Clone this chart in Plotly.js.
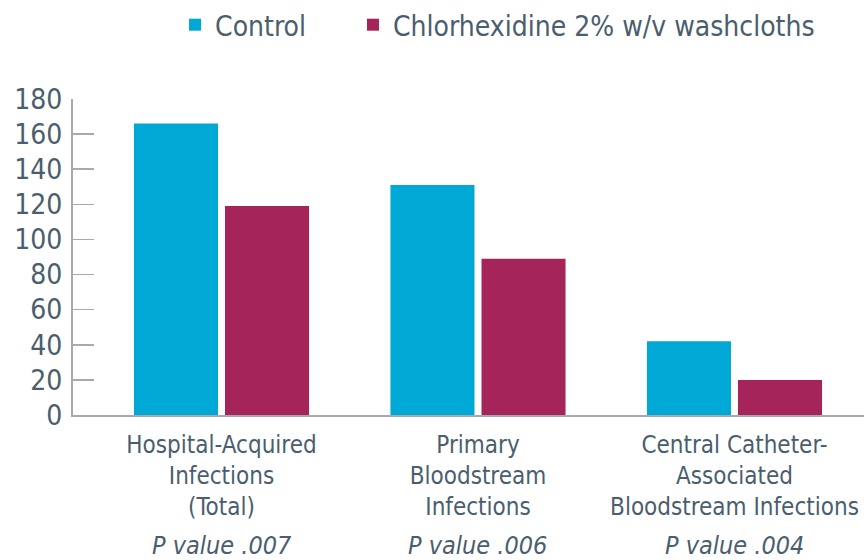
<!DOCTYPE html>
<html>
<head>
<meta charset="utf-8">
<script src="https://cdn.plot.ly/plotly-3.0.1.min.js"></script>
<style>html,body{margin:0;padding:0;background:#fff;}#chart{width:864px;height:560px;}</style>
</head>
<body>
<div id="chart"></div>
<script>
const categories = ["Hospital-Acquired<br>Infections<br>(Total)", "Primary<br>Bloodstream<br>Infections", "Central Catheter-<br>Associated<br>Bloodstream Infections"];
const pValues = ["P value .007", "P value .006", "P value .004"];
const controlValues = [166, 131, 42];
const chlorhexidineValues = [119, 89, 20];
const seriesNames = ["Control", "Chlorhexidine 2% w/v washcloths"];
const yTicks = [0, 20, 40, 60, 80, 100, 120, 140, 160, 180];

const FONT = "'DejaVu Sans Condensed', 'Liberation Sans Narrow', sans-serif";
const TXT = "#4a5e6e";
const AX = "#a6a9b6";
const xIdx = categories.map((c, i) => i);

const traces = [
  {type: 'bar', name: seriesNames[0], x: xIdx, y: controlValues, marker: {color: '#00a8d5'}, hoverinfo: 'skip', legend: 'legend'},
  {type: 'bar', name: seriesNames[1], x: xIdx, y: chlorhexidineValues, marker: {color: '#a5245a'}, hoverinfo: 'skip', legend: 'legend2'}
];

const annotations = pValues.map((p, i) => ({
  x: i, xref: 'x', y: 0, yref: 'paper', yanchor: 'middle', yshift: -130,
  text: '<i>' + p + '</i>', showarrow: false,
  font: {family: FONT, size: 25, color: TXT}
}));

const legendFont = {family: FONT, size: 28, color: TXT};

const layout = {
  width: 864, height: 560,
  margin: {l: 73, r: 0, t: 99, b: 145},
  paper_bgcolor: '#fff', plot_bgcolor: '#fff',
  barmode: 'group', bargap: 0.29, bargroupgap: 0.077,
  showlegend: true,
  legend: {orientation: 'h', x: 0.129, xanchor: 'left', y: 1.315, yanchor: 'top', font: legendFont, itemwidth: 30},
  legend2: {orientation: 'h', x: 0.354, xanchor: 'left', y: 1.315, yanchor: 'top', font: legendFont, itemwidth: 30},
  xaxis: {type: 'linear', range: [-0.579, 2.505], tickmode: 'array', tickvals: xIdx, ticktext: categories,
    showline: true, linecolor: AX, linewidth: 2, ticks: '', showgrid: false, zeroline: false,
    ticklabeloverflow: 'allow', ticklabelstandoff: 7,
    tickfont: {family: FONT, size: 24, color: TXT}},
  yaxis: {range: [0, 180], tickmode: 'array', tickvals: yTicks, showline: true, linecolor: AX, linewidth: 2,
    ticks: 'inside', ticklen: 21, tickwidth: 1.5, tickcolor: AX, showgrid: false, zeroline: false,
    ticklabelstandoff: 3,
    tickfont: {family: FONT, size: 28, color: TXT}},
  annotations: annotations,
  font: {family: FONT, color: TXT}
};

Plotly.newPlot('chart', traces, layout, {displayModeBar: false, staticPlot: true});
</script>
</body>
</html>
